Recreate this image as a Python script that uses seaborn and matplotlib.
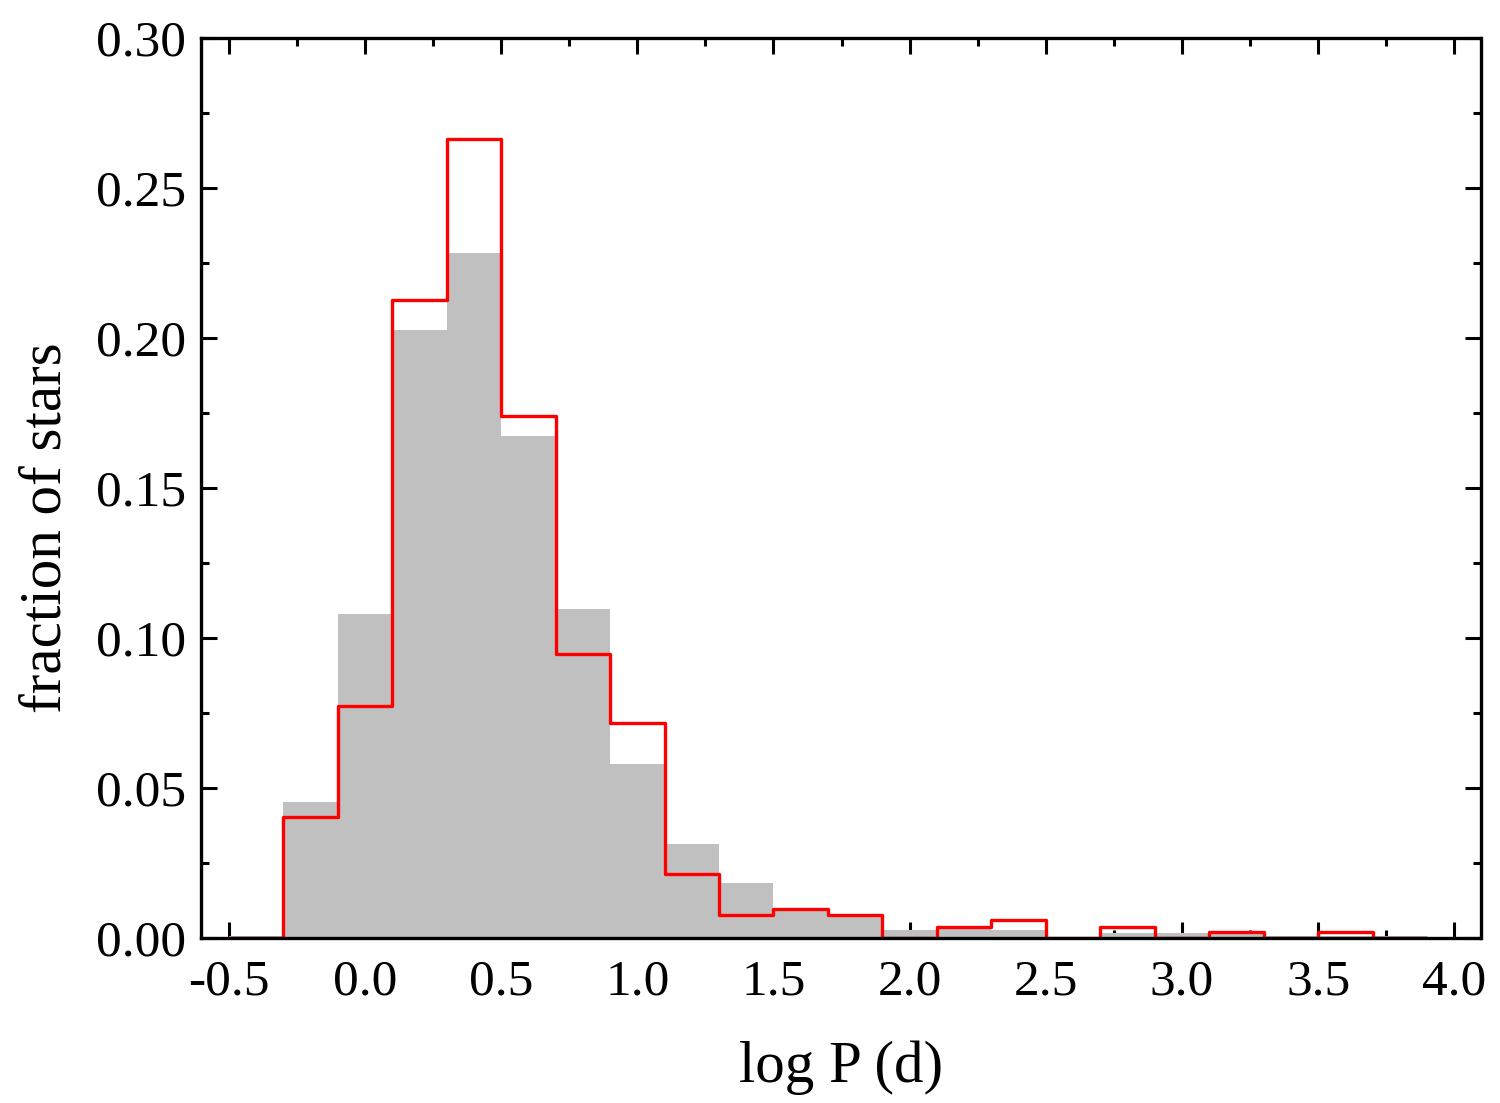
import numpy as np
import pandas as pd
import matplotlib
matplotlib.use("Agg")
import matplotlib.pyplot as plt
import seaborn as sns
from matplotlib.ticker import MultipleLocator, FormatStrFormatter

# Bin edges (log P, width 0.2)
bin_edges = [-0.5, -0.3, -0.1, 0.1, 0.3, 0.5, 0.7, 0.9, 1.1, 1.3, 1.5, 1.7,
             1.9, 2.1, 2.3, 2.5, 2.7, 2.9, 3.1, 3.3, 3.5, 3.7, 3.9]
# Gray filled histogram (fraction of stars)
gray_frac = [0.0008, 0.0454, 0.108, 0.2027, 0.2283, 0.1673, 0.1097, 0.058,
             0.0313, 0.0182, 0.0095, 0.0075, 0.0025, 0.003, 0.0025, 0.0,
             0.0015, 0.0015, 0.0015, 0.0005, 0.0005, 0.0005]
# Red step histogram (fraction of stars)
red_frac = [0.0, 0.0404, 0.0773, 0.2127, 0.2663, 0.174, 0.0947, 0.0717,
            0.0212, 0.0078, 0.0097, 0.0078, 0.0, 0.0038, 0.0059, 0.0,
            0.0038, 0.0, 0.002, 0.0, 0.002, 0.0]

edges = np.array(bin_edges)
centers = (edges[:-1] + edges[1:]) / 2
df_gray = pd.DataFrame({"logP": centers, "w": gray_frac})
df_red = pd.DataFrame({"logP": centers, "w": red_frac})

sns.set_style("ticks")
plt.rcParams["font.family"] = ["Liberation Serif", "DejaVu Serif"]
plt.rcParams["text.color"] = "black"
plt.rcParams["axes.labelcolor"] = "black"
plt.rcParams["axes.edgecolor"] = "black"
plt.rcParams["xtick.color"] = "black"
plt.rcParams["ytick.color"] = "black"

fig = plt.figure(figsize=(15, 11.03), dpi=100)
ax = fig.add_axes([0.134, 0.1496, 0.853, 0.8159])

sns.histplot(data=df_gray, x="logP", weights="w", bins=list(bin_edges),
             stat="count", element="bars", fill=True, color="#c0c0c0",
             alpha=1.0, linewidth=0, ax=ax)
sns.histplot(data=df_red, x="logP", weights="w", bins=list(bin_edges),
             stat="count", element="step", fill=False, color="#ff0000",
             linewidth=2.4, ax=ax)

ax.set_xlim(-0.602, 4.096)
ax.set_ylim(0, 0.30)
ax.xaxis.set_major_locator(MultipleLocator(0.5))
ax.xaxis.set_minor_locator(MultipleLocator(0.25))
ax.yaxis.set_major_locator(MultipleLocator(0.05))
ax.yaxis.set_minor_locator(MultipleLocator(0.025))
ax.xaxis.set_major_formatter(FormatStrFormatter("%.1f"))
ax.yaxis.set_major_formatter(FormatStrFormatter("%.2f"))

ax.tick_params(which="both", direction="in", top=True, right=True,
               width=2.2, labelsize=37, colors="black")
ax.tick_params(axis="x", which="both", pad=15)
ax.tick_params(axis="y", which="both", pad=11)
ax.tick_params(which="major", length=11.5)
ax.tick_params(which="minor", length=6)
for s in ax.spines.values():
    s.set_linewidth(2.4)
    s.set_color("black")
    s.set_visible(True)

ax.set_xlabel("log P (d)", fontsize=42.5, labelpad=25, color="black")
ax.set_ylabel("fraction of stars", fontsize=42.5, color="black")
ax.yaxis.set_label_coords(-0.1, 0.4556)

fig.savefig("out.png", dpi=100)
